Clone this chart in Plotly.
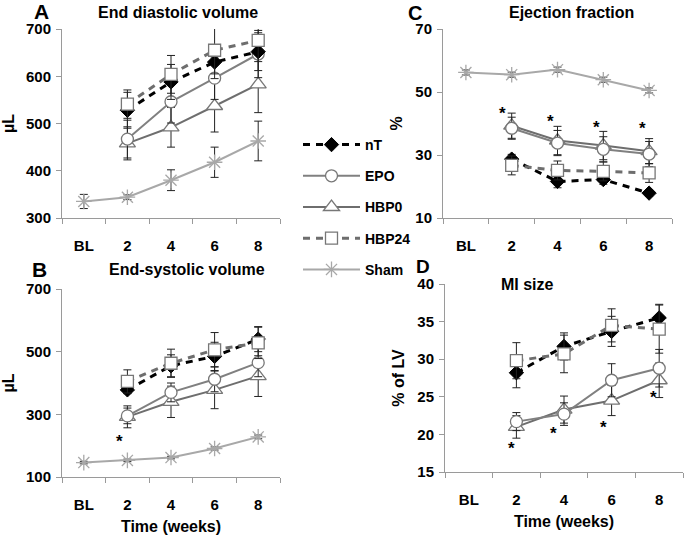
import plotly.graph_objects as go

W, H = 685, 540

# ---------------- data ----------------
time_labels = ["BL", "2", "4", "6", "8"]
series_names = ["nT", "EPO", "HBP0", "HBP24", "Sham"]

# A: End diastolic volume (µL)
edv_nT = [None, 528, 588, 630, 652]
edv_nT_err = [0, 38, 37, 35, 40]
edv_EPO = [None, 467, 546, 596, 647]
edv_EPO_err = [0, 40, 45, 45, 50]
edv_HBP0 = [None, 458, 492, 537, 583]
edv_HBP0_err = [0, 35, 42, 55, 60]
edv_HBP24 = [None, 541, 604, 655, 676]
edv_HBP24_err = [0, 30, 40, 50, 45]
edv_Sham = [335, 344, 380, 418, 463]
edv_Sham_err = [15, 5, 22, 32, 42]

# B: End-systolic volume (µL)
esv_nT = [None, 378, 455, 485, 540]
esv_nT_err = [0, 12, 35, 45, 40]
esv_EPO = [None, 295, 370, 412, 465]
esv_EPO_err = [0, 25, 30, 40, 45]
esv_HBP0 = [None, 292, 340, 378, 422]
esv_HBP0_err = [0, 35, 50, 60, 65]
esv_HBP24 = [None, 405, 463, 506, 528]
esv_HBP24_err = [0, 37, 45, 55, 50]
esv_Sham = [146, 153, 162, 191, 228]
esv_Sham_err = [4, 4, 4, 5, 6]

# C: Ejection fraction (%)
ef_nT = [None, 28.7, 21.6, 22.2, 17.9]
ef_nT_err = [0, 1.5, 2.0, 1.5, 1.0]
ef_EPO = [None, 38.5, 33.8, 31.8, 30.3]
ef_EPO_err = [0, 3.5, 4.0, 4.0, 4.0]
ef_HBP0 = [None, 39.3, 34.6, 33.0, 31.2]
ef_HBP0_err = [0, 4.0, 4.5, 4.5, 4.0]
ef_HBP24 = [None, 26.7, 25.1, 24.8, 24.3]
ef_HBP24_err = [0, 3.0, 3.0, 3.0, 3.0]
ef_Sham = [56.2, 55.5, 57.1, 53.9, 50.5]
ef_Sham_err = [0.8, 0.8, 0.8, 0.8, 0.8]

# D: MI size (% of LV)
mi_nT = [None, 28.2, 31.7, 33.7, 35.5]
mi_nT_err = [0, 2.0, 1.8, 2.0, 1.8]
mi_EPO = [None, 21.7, 22.7, 27.2, 28.8]
mi_EPO_err = [0, 1.2, 1.5, 2.2, 2.5]
mi_HBP0 = [None, 21.0, 23.3, 24.5, 27.2]
mi_HBP0_err = [0, 1.5, 1.8, 2.0, 2.3]
mi_HBP24 = [None, 29.8, 30.7, 34.5, 34.0]
mi_HBP24_err = [0, 2.4, 2.5, 2.2, 3.2]

# significance stars (x as category index, y in data units)
stars_B_x = [0.83]
stars_B_y = [227]
stars_C_x = [0.8, 1.85, 2.85, 3.85]
stars_C_y = [44.4, 42.0, 40.0, 39.6]
stars_D_x = [0.89, 1.77, 2.82, 3.87]
stars_D_y = [18.7, 20.6, 21.5, 25.4]

# ---------------- styles ----------------
FONT = "Liberation Sans, Arial, sans-serif"
styles = {
    "nT": dict(line=dict(color="black", width=3, dash="7px,6px"),
               marker=dict(symbol="diamond", size=11, color="black",
                           line=dict(color="black", width=1))),
    "EPO": dict(line=dict(color="#808080", width=2),
                marker=dict(symbol="circle", size=12, color="white",
                            line=dict(color="#777777", width=1.3))),
    "HBP0": dict(line=dict(color="#6e6e6e", width=2),
                 marker=dict(symbol="triangle-up", size=14, color="white",
                             line=dict(color="#777777", width=1.3))),
    "HBP24": dict(line=dict(color="#6e6e6e", width=3, dash="7px,6px"),
                  marker=dict(symbol="square", size=12, color="white",
                              line=dict(color="#777777", width=1.3))),
    "Sham": dict(line=dict(color="#a8a8a8", width=2),
                 marker=dict(symbol="asterisk-open", size=13, color="#a8a8a8",
                             line=dict(color="#a8a8a8", width=1.3))),
}

panels = {
    "A": dict(ax="", data={"nT": (edv_nT, edv_nT_err), "EPO": (edv_EPO, edv_EPO_err),
                           "HBP0": (edv_HBP0, edv_HBP0_err), "HBP24": (edv_HBP24, edv_HBP24_err),
                           "Sham": (edv_Sham, edv_Sham_err)}),
    "C": dict(ax="2", data={"nT": (ef_nT, ef_nT_err), "EPO": (ef_EPO, ef_EPO_err),
                            "HBP0": (ef_HBP0, ef_HBP0_err), "HBP24": (ef_HBP24, ef_HBP24_err),
                            "Sham": (ef_Sham, ef_Sham_err)}),
    "B": dict(ax="3", data={"nT": (esv_nT, esv_nT_err), "EPO": (esv_EPO, esv_EPO_err),
                            "HBP0": (esv_HBP0, esv_HBP0_err), "HBP24": (esv_HBP24, esv_HBP24_err),
                            "Sham": (esv_Sham, esv_Sham_err)}),
    "D": dict(ax="4", data={"nT": (mi_nT, mi_nT_err), "EPO": (mi_EPO, mi_EPO_err),
                            "HBP0": (mi_HBP0, mi_HBP0_err), "HBP24": (mi_HBP24, mi_HBP24_err)}),
}

xidx = list(range(len(time_labels)))
fig = go.Figure()

draw_order = ["Sham", "HBP0", "EPO", "nT", "HBP24"]
legend_rank = {n: i for i, n in enumerate(series_names)}
for pname, p in panels.items():
    for s in draw_order:
        if s not in p["data"]:
            continue
        vals, errs = p["data"][s]
        fig.add_trace(go.Scatter(
            x=xidx, y=vals, mode="lines+markers", name=s,
            legendgroup=s, legendrank=legend_rank[s],
            showlegend=(pname == "A"),
            xaxis="x" + p["ax"], yaxis="y" + p["ax"],
            error_y=dict(type="data", array=errs, color="#222222",
                         thickness=1, width=4),
            connectgaps=False,
            **styles[s]))

def px_dom_x(a, b):
    return [a / W, b / W]

def px_dom_y(top, bottom):
    return [1 - bottom / H, 1 - top / H]

tickfont = dict(family=FONT, size=15, color="black", weight="bold")
titlefont = dict(family=FONT, size=16, color="black", weight="bold")
AXC = "#9a9a9a"

def xaxis_cfg(dom, anchor, show_title, standoff_lab):
    return dict(domain=dom, anchor=anchor, range=[-0.5, 4.5], automargin=False,
                tickmode="array", tickvals=xidx, ticktext=time_labels,
                ticks="", showline=True, linecolor=AXC, linewidth=1,
                showgrid=False, zeroline=False, tickfont=tickfont,
                ticklabelstandoff=standoff_lab,
                minor=dict(tickmode="array", tickvals=[-0.5, 0.5, 1.5, 2.5, 3.5, 4.5],
                           ticks="outside", ticklen=5, tickcolor=AXC, tickwidth=1),
                title=dict(text="Time (weeks)" if show_title else "", font=titlefont,
                           standoff=8))

def yaxis_cfg(dom, anchor, rng, tv, title, standoff):
    return dict(domain=dom, anchor=anchor, range=rng, tickmode="array", tickvals=tv,
                automargin=False,
                ticks="outside", ticklen=5, tickcolor=AXC, showline=True, linecolor=AXC,
                linewidth=1, showgrid=False, zeroline=False, tickfont=tickfont,
                ticklabelstandoff=2,
                title=dict(text=title, font=titlefont, standoff=standoff))

fig.update_layout(
    width=W, height=H, margin=dict(l=0, r=0, t=0, b=0, autoexpand=False),
    paper_bgcolor="white", plot_bgcolor="white",
    font=dict(family=FONT, color="black"),
    xaxis=xaxis_cfg(px_dom_x(62, 280), "y", False, 14),
    yaxis=yaxis_cfg(px_dom_y(29, 218), "x", [300, 700], [300, 400, 500, 600, 700], "µL", 10),
    xaxis2=xaxis_cfg(px_dom_x(443, 672), "y2", False, 14),
    yaxis2=yaxis_cfg(px_dom_y(29, 218), "x2", [10, 70], [10, 30, 50, 70], "%", 8),
    xaxis3=xaxis_cfg(px_dom_x(62, 280), "y3", True, 14),
    yaxis3=yaxis_cfg(px_dom_y(289, 477), "x3", [100, 700], [100, 300, 500, 700], "µL", 10),
    xaxis4=xaxis_cfg(px_dom_x(445, 683), "y4", True, 14),
    yaxis4=yaxis_cfg(px_dom_y(284, 472), "x4", [15, 40], [15, 20, 25, 30, 35, 40], "% of LV", 8),
    legend=dict(x=298 / W, y=1 - 129 / H, xanchor="left", yanchor="top",
                traceorder="grouped", tracegroupgap=10, itemwidth=57,
                font=dict(family=FONT, size=14, color="black", weight="bold"),
                bgcolor="rgba(0,0,0,0)"),
)

anns = []
def paper_text(x, y, text, size):
    anns.append(dict(xref="paper", yref="paper", x=x / W, y=1 - y / H,
                     text=text, showarrow=False, xanchor="center", yanchor="middle",
                     font=dict(family=FONT, size=size, color="black", weight="bold")))

paper_text(178, 13, "End diastolic volume", 16)
paper_text(187, 269, "End-systolic volume", 16)
paper_text(571, 12, "Ejection fraction", 16)
paper_text(527, 284, "MI size", 16)
paper_text(41, 11, "A", 21)
paper_text(39, 269, "B", 21)
paper_text(415, 13, "C", 20)
paper_text(423, 266, "D", 19)

for ax, xs, ys in [("3", stars_B_x, stars_B_y), ("2", stars_C_x, stars_C_y), ("4", stars_D_x, stars_D_y)]:
    for sx, sy in zip(xs, ys):
        anns.append(dict(xref="x" + ax, yref="y" + ax, x=sx, y=sy, text="*",
                         showarrow=False, yshift=-4,
                         font=dict(family=FONT, size=17, color="black", weight="bold")))

fig.update_layout(annotations=anns)
fig.write_html("out.html", config={"displayModeBar": False},
               post_script="document.body.style.margin='0px';")
